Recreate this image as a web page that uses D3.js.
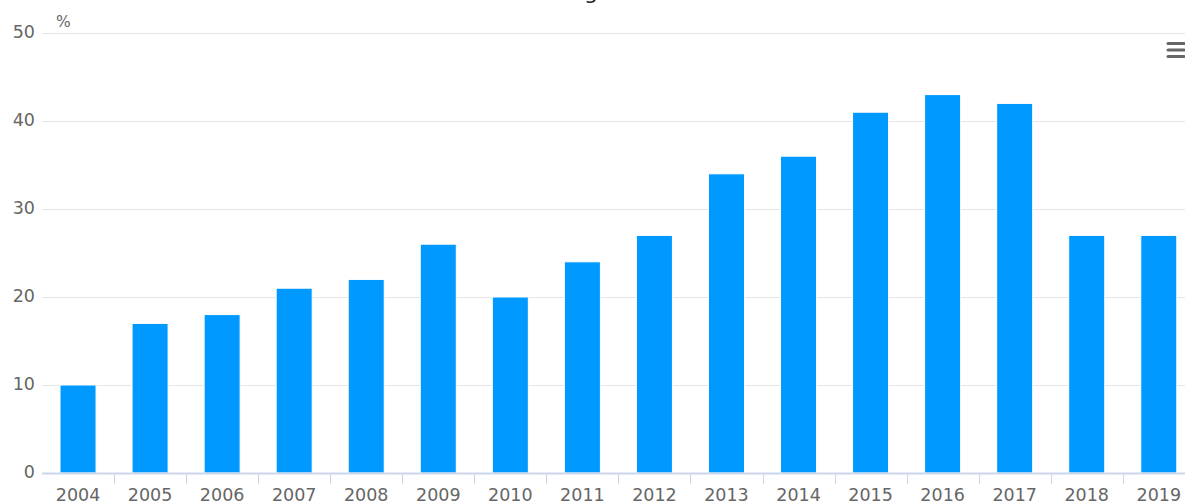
<!DOCTYPE html>
<html><head><meta charset="utf-8">
<script src="https://cdn.jsdelivr.net/npm/d3@7"></script>
<style>html,body{margin:0;padding:0;background:#fff;overflow:hidden}</style>
</head><body>
<svg id="chart" width="1185" height="504"></svg>
<script>
const categories = ["2004","2005","2006","2007","2008","2009","2010","2011","2012","2013","2014","2015","2016","2017","2018","2019"];
const values = [10,17,18,21,22,26,20,24,27,34,36,41,43,42,27,27];
const yTicks = [0,10,20,30,40,50];
const yUnit = "%";
const titleText = "g";

(function(){
const svg = d3.select("#chart");
const font = "DejaVu Sans, Verdana, sans-serif";
const mLeft = 42, step = 72.05, mTop = 33, mBottom = 473;
const x = d3.scaleBand().domain(categories).range([mLeft, mLeft + step*categories.length]).paddingInner(0.5).paddingOuter(0.25);
const y = d3.scaleLinear().domain([0,50]).range([mBottom, mTop]);

svg.append("text").attr("x", 591).attr("y", -1).attr("text-anchor","middle")
  .attr("font-family", font).attr("font-size", 22).attr("fill","#222").text(titleText);

svg.append("g").selectAll("line").data(yTicks.filter(d=>d>0)).join("line")
  .attr("x1", mLeft).attr("x2", 1185).attr("y1", d=>Math.round(y(d))+0.5).attr("y2", d=>Math.round(y(d))+0.5)
  .attr("stroke","#e6e6e6").attr("stroke-width",1);

svg.append("g").selectAll("text").data(yTicks).join("text")
  .attr("x", 35).attr("y", d=>y(d)+5).attr("text-anchor","end")
  .attr("font-family", font).attr("font-size", 17.5).attr("fill","#666").text(d=>d);
svg.append("text").attr("x", 56).attr("y", 27).attr("font-family", font).attr("font-size", 15.5).attr("fill","#666").text(yUnit);

svg.append("g").selectAll("rect").data(values).join("rect")
  .attr("x", (d,i)=>x(categories[i])).attr("width", x.bandwidth())
  .attr("y", d=>y(d)).attr("height", d=>mBottom - y(d))
  .attr("fill","#0099ff").attr("stroke","#ffffff").attr("stroke-width",1);

const xAxis = d3.axisBottom(x).tickSize(0).tickPadding(0);
const gx = svg.append("g").attr("transform", `translate(0,${mBottom})`).call(xAxis);
gx.select(".domain").remove();
gx.selectAll("text").attr("dy", null).attr("y", 28).attr("font-family", font).attr("font-size", 17.5).attr("fill","#666");
svg.append("line").attr("x1", mLeft).attr("x2", 1185).attr("y1", mBottom+0.5).attr("y2", mBottom+0.5).attr("stroke","#ccd6eb").attr("stroke-width",2);
svg.append("g").selectAll("line").data(categories.slice(1)).join("line")
  .attr("x1", d=>Math.round(x(d) - x.step()*x.paddingInner()/2)+0.5).attr("x2", d=>Math.round(x(d) - x.step()*x.paddingInner()/2)+0.5)
  .attr("y1", mBottom).attr("y2", mBottom+11).attr("stroke","#ccd6eb").attr("stroke-width",1);

svg.append("g").selectAll("line").data([0,1,2]).join("line")
  .attr("x1", 1168).attr("x2", 1184).attr("y1", d=>43.5+d*6.5).attr("y2", d=>43.5+d*6.5)
  .attr("stroke","#666").attr("stroke-width",3).attr("stroke-linecap","round");
})();
</script>
</body></html>
